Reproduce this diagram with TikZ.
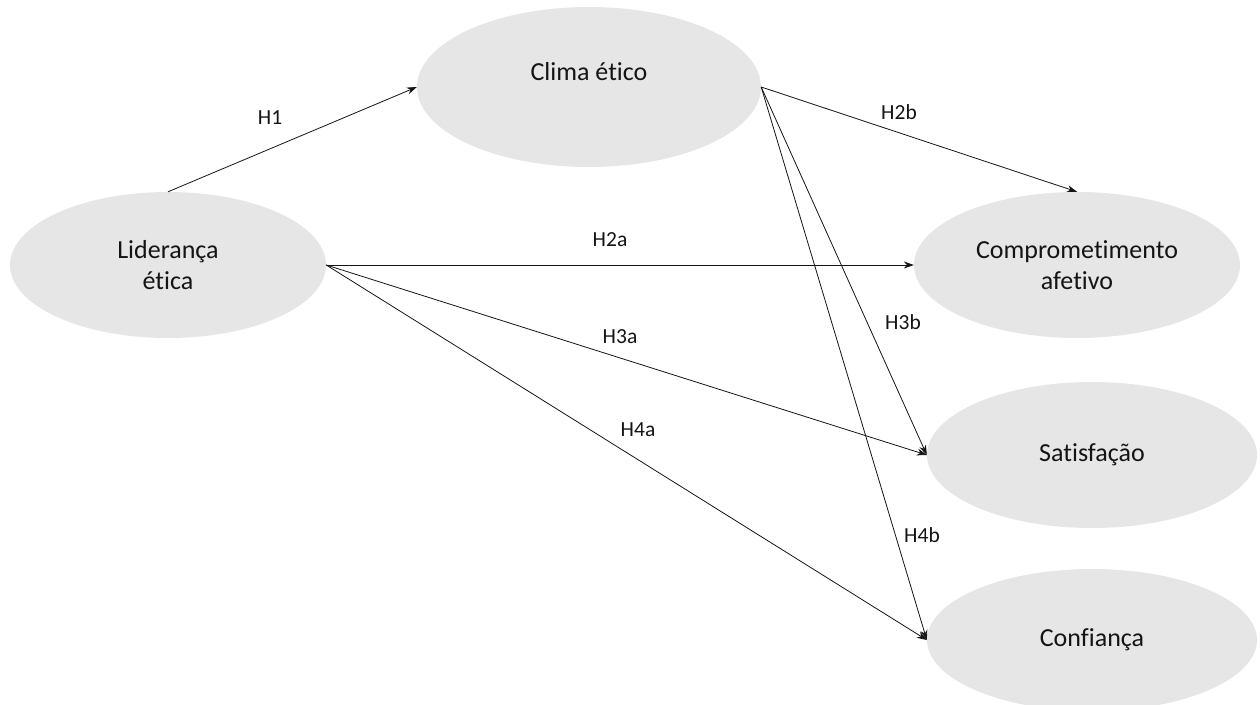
\documentclass[tikz,border=0pt]{standalone}
\usepackage{fontspec}
\setmainfont{Carlito}[Ligatures=NoCommon]
\usetikzlibrary{shapes.geometric,arrows.meta}
\definecolor{ellfill}{HTML}{E6E6E6}
\definecolor{ink}{HTML}{141414}
\tikzset{
  construct/.style={ellipse, fill=ellfill, draw=none, inner sep=0pt, align=center,
    text=ink, font=\fontsize{26}{31.5}\selectfont},
  hyp/.style={text=ink, font=\fontsize{21.5}{26}\selectfont, inner sep=0pt},
  link/.style={draw=ink, line width=0.8pt, -{Stealth[length=10pt,width=7pt]}}
}
\begin{document}
\begin{tikzpicture}[x=1pt,y=-1pt]
\useasboundingbox (0,0) rectangle (1260,704);
\node[construct, minimum width=316pt, minimum height=146pt] (lid) at (168,265) {Liderança\\ética};
\node[construct, minimum width=344pt, minimum height=160pt,
  label={[text=ink, font=\fontsize{26}{31.5}\selectfont, inner sep=0pt, yshift=15pt]center:Clima ético}] (clima) at (589,87) {};
\node[construct, minimum width=326pt, minimum height=146pt] (comp) at (1077,265) {Comprometimento\\afetivo};
\node[construct, minimum width=330pt, minimum height=146pt] (sat) at (1092,455) {Satisfação};
\node[construct, minimum width=330pt, minimum height=142pt] (conf) at (1092,640) {Confiança};

\draw[link] (lid.north) -- (clima.west);
\draw[link] (clima.east) -- (comp.north);
\draw[link] (lid.east) -- (comp.west);
\draw[link] (lid.east) -- (sat.west);
\draw[link] (lid.east) -- (conf.west);
\draw[link] (clima.east) -- (sat.west);
\draw[link] (clima.east) -- (conf.west);

\node[hyp] (h1) at (270,118) {H1};
\node[hyp] (h2b) at (899,112) {H2b};
\node[hyp] (h2a) at (610,240) {H2a};
\node[hyp] (h3a) at (620,337) {H3a};
\node[hyp] (h4a) at (638,430) {H4a};
\node[hyp] (h3b) at (903,322) {H3b};
\node[hyp] (h4b) at (922,535) {H4b};
\end{tikzpicture}
\end{document}
